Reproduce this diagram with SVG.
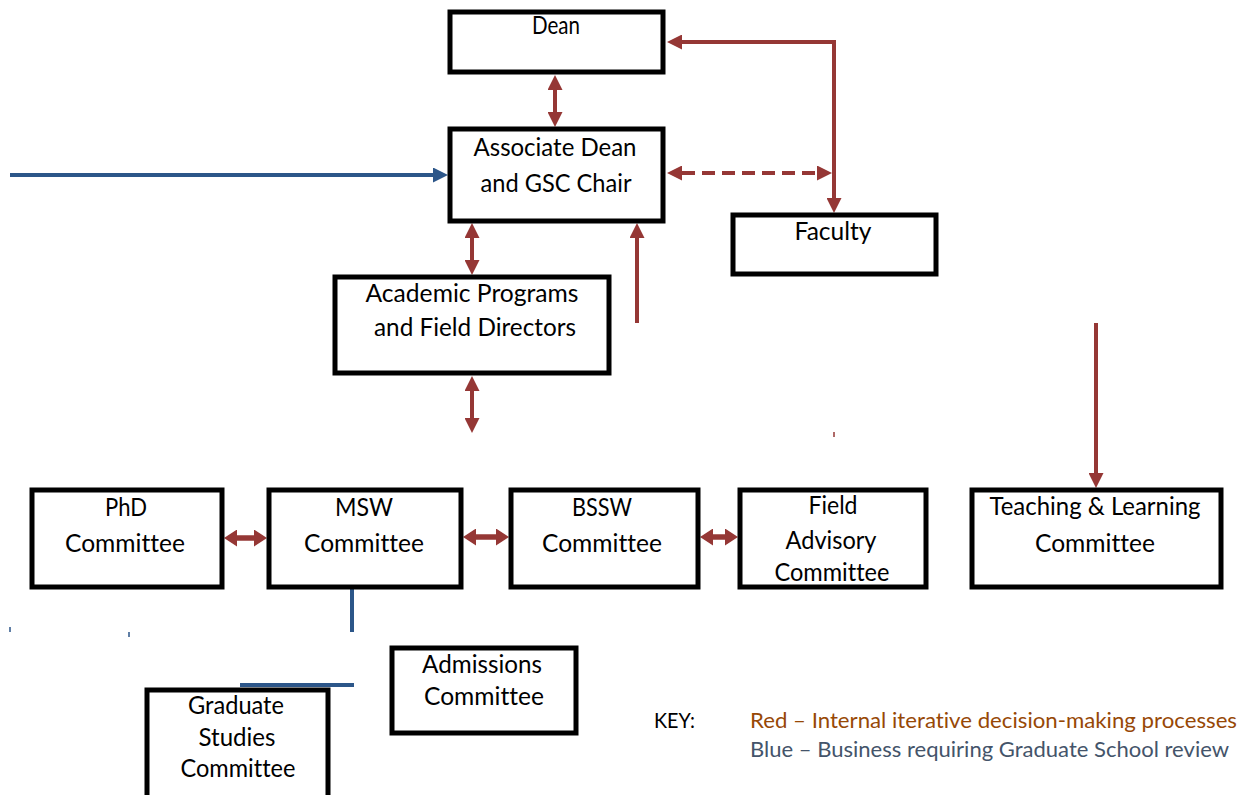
<svg xmlns="http://www.w3.org/2000/svg" width="1250" height="795" viewBox="0 0 1250 795">
<style>
.box{fill:#fff;stroke:#000;stroke-width:5}
.t{font-family:Lato,"Liberation Sans",sans-serif;font-size:25px;fill:#000;text-anchor:middle;font-variant-ligatures:none}
.k{font-family:Lato,"Liberation Sans",sans-serif;font-size:21px;font-variant-ligatures:none}
.red{fill:none;stroke:#953735;stroke-width:4}
.redb{fill:none;stroke:#953735;stroke-width:5.5}
.blue{fill:none;stroke:#2c5689;stroke-width:4}
.tick{stroke-width:1.5}
</style>
<defs>
<marker id="ar" markerUnits="userSpaceOnUse" markerWidth="15" markerHeight="15" viewBox="0 0 15 15" refX="0" refY="7.5" orient="auto-start-reverse"><path d="M0,0 L15,7.5 L0,15 Z" fill="#953735"/></marker>
<marker id="arS" markerUnits="userSpaceOnUse" markerWidth="13" markerHeight="17" viewBox="0 0 13 17" refX="0" refY="8.5" orient="auto-start-reverse"><path d="M0,0 L13,8.5 L0,17 Z" fill="#953735"/></marker>
<marker id="ab" markerUnits="userSpaceOnUse" markerWidth="15" markerHeight="15" viewBox="0 0 15 15" refX="0" refY="7.5" orient="auto-start-reverse"><path d="M0,0 L15,7.5 L0,15 Z" fill="#2c5689"/></marker>
</defs>
<rect width="1250" height="795" fill="#fff"/>
<g id="connectors">
<path class="red" d="M555,90 V112" marker-start="url(#ar)" marker-end="url(#ar)"/>
<path class="red" d="M682,42 H834 V198" marker-start="url(#ar)" marker-end="url(#ar)"/>
<path class="red" d="M682,173 H817" stroke-dasharray="13 7" marker-start="url(#ar)" marker-end="url(#ar)"/>
<path class="red" d="M472,238 V260" marker-start="url(#ar)" marker-end="url(#ar)"/>
<path class="red" d="M637,323 V238" marker-end="url(#ar)"/>
<path class="red" d="M472,391 V418" marker-start="url(#ar)" marker-end="url(#ar)"/>
<path class="red" d="M1096,323 V473" marker-end="url(#ar)"/>
<path class="redb" d="M237,538 H254" marker-start="url(#arS)" marker-end="url(#arS)"/>
<path class="redb" d="M476,537 H496" marker-start="url(#arS)" marker-end="url(#arS)"/>
<path class="redb" d="M713,537 H725" marker-start="url(#arS)" marker-end="url(#arS)"/>
<path class="blue" d="M10,175 H433" marker-end="url(#ab)"/>
<path class="blue" d="M352,589 V632"/>
<path class="blue" d="M240,685 H354" stroke-width="4.5"/>
<path class="blue tick" d="M10,627 V632 M129,632 V637"/>
<path class="red tick" d="M834,432 V437"/>
</g>
<g id="dean"><rect class="box" x="450" y="12" width="213" height="60"/><text class="t" x="556" y="34" font-size="22" textLength="48" lengthAdjust="spacingAndGlyphs">Dean</text></g>
<g id="assoc"><rect class="box" x="450" y="129" width="213" height="92"/><text class="t" x="555" y="156" textLength="163" lengthAdjust="spacingAndGlyphs">Associate Dean</text><text class="t" x="556" y="192" textLength="151" lengthAdjust="spacingAndGlyphs">and GSC Chair</text></g>
<g id="faculty"><rect class="box" x="733" y="215" width="203" height="59"/><text class="t" x="833" y="240" font-size="23" textLength="77" lengthAdjust="spacingAndGlyphs">Faculty</text></g>
<g id="academic"><rect class="box" x="335" y="277" width="274" height="96"/><text class="t" x="472" y="302" textLength="213" lengthAdjust="spacingAndGlyphs">Academic Programs</text><text class="t" x="475" y="336" textLength="202" lengthAdjust="spacingAndGlyphs">and Field Directors</text></g>
<g id="phd"><rect class="box" x="32" y="490" width="190" height="97"/><text class="t" x="126" y="516" textLength="42" lengthAdjust="spacingAndGlyphs">PhD</text><text class="t" x="125" y="552" textLength="120" lengthAdjust="spacingAndGlyphs">Committee</text></g>
<g id="msw"><rect class="box" x="269" y="490" width="192" height="97"/><text class="t" x="364" y="516" textLength="58" lengthAdjust="spacingAndGlyphs">MSW</text><text class="t" x="364" y="552" textLength="120" lengthAdjust="spacingAndGlyphs">Committee</text></g>
<g id="bssw"><rect class="box" x="511" y="490" width="187" height="97"/><text class="t" x="602" y="516" textLength="60" lengthAdjust="spacingAndGlyphs">BSSW</text><text class="t" x="602" y="552" textLength="120" lengthAdjust="spacingAndGlyphs">Committee</text></g>
<g id="field"><rect class="box" x="740" y="490" width="186" height="97"/><text class="t" x="833" y="514" textLength="49" lengthAdjust="spacingAndGlyphs">Field</text><text class="t" x="831" y="549" textLength="91" lengthAdjust="spacingAndGlyphs">Advisory</text><text class="t" x="832" y="581" textLength="115" lengthAdjust="spacingAndGlyphs">Committee</text></g>
<g id="teaching"><rect class="box" x="972" y="490" width="249" height="97"/><text class="t" x="1095" y="515" textLength="211" lengthAdjust="spacingAndGlyphs">Teaching &amp; Learning</text><text class="t" x="1095" y="552" textLength="120" lengthAdjust="spacingAndGlyphs">Committee</text></g>
<g id="admissions"><rect class="box" x="392" y="648" width="184" height="85"/><text class="t" x="482" y="673" textLength="120" lengthAdjust="spacingAndGlyphs">Admissions</text><text class="t" x="484" y="705" textLength="120" lengthAdjust="spacingAndGlyphs">Committee</text></g>
<g id="graduate"><rect class="box" x="147" y="690" width="181" height="130"/><text class="t" x="236" y="714" textLength="96" lengthAdjust="spacingAndGlyphs">Graduate</text><text class="t" x="237" y="746" textLength="77" lengthAdjust="spacingAndGlyphs">Studies</text><text class="t" x="238" y="777" textLength="115" lengthAdjust="spacingAndGlyphs">Committee</text></g>
<g id="key">
<text class="k" x="654" y="728" fill="#000" textLength="41" lengthAdjust="spacingAndGlyphs">KEY:</text>
<text class="k" x="750" y="728" fill="#974806" textLength="487" lengthAdjust="spacingAndGlyphs">Red – Internal iterative decision-making processes</text>
<text class="k" x="750" y="757" fill="#44546a" textLength="479" lengthAdjust="spacingAndGlyphs">Blue – Business requiring Graduate School review</text>
</g>
</svg>
